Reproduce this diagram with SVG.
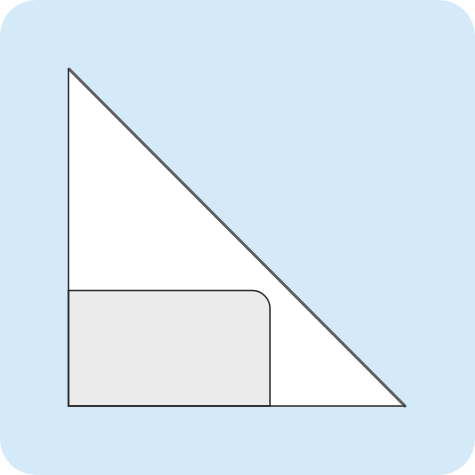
<svg xmlns="http://www.w3.org/2000/svg" width="475" height="475" viewBox="0 0 475 475">
<style>
.bg{fill:#d5eaf9}
.edge{fill:none;stroke:#2a2a2a;stroke-width:1.5}
</style>
<rect class="bg" x="0" y="0" width="475" height="475" rx="36" ry="36"/>
<g id="triangle">
<polygon points="68.5,68.5 68.5,406 405,406" fill="#ffffff" stroke="none"/>
<line x1="69" y1="69" x2="405" y2="406" stroke="#5f5f5f" stroke-width="3" stroke-linecap="round"/>
</g>
<g id="pocket">
<path d="M68.5,406 V290.5 H252 A18,18 0 0 1 270,308.5 V406 Z" fill="#ebebeb" stroke="#2a2a2a" stroke-width="1.5"/>
</g>
<g id="edges">
<path class="edge" d="M68.5,68.5 V406 H405"/>
</g>
</svg>
